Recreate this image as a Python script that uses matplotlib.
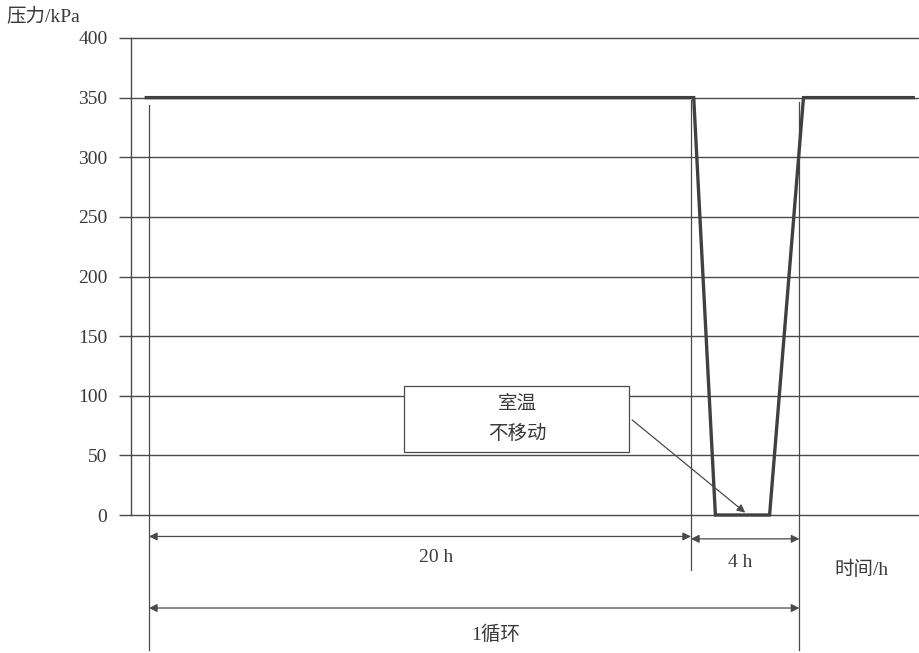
import matplotlib
matplotlib.use("Agg")
import matplotlib.pyplot as plt
from matplotlib.patches import Rectangle

# ---- data ----
time_h = [-0.1, 20.1, 20.9, 22.9, 24.15, 28.2]
pressure_kpa = [350, 350, 0, 0, 350, 350]
yticks = [0, 50, 100, 150, 200, 250, 300, 350, 400]
ytick_labels = ["0", "50", "100", "150", "200", "250", "300", "350", "400"]
phase_bounds = [0, 20, 24]
phase_labels = ["20 h", "4 h"]
cycle_label = "1循环"
ylabel = "压力/kPa"
xlabel = "时间/h"
note_lines = ["室温", "不移动"]

FONT = ["Liberation Serif", "Noto Sans CJK SC", "DejaVu Sans"]
LC = "#4a4a4a"
TC = "#3a3a3a"
FS = 14

W, H = 920, 653
fig = plt.figure(figsize=(W / 100, H / 100), dpi=100)
fig.patch.set_facecolor("white")

# pixel geometry of plotting area
ax_left_px, ax_right_px = 131, 920
y0_px, y400_px = 515, 38
t0_px, px_per_h = 149, 27.1

ax = fig.add_axes([ax_left_px / W, (H - y0_px) / H,
                   (ax_right_px - ax_left_px) / W, (y0_px - y400_px) / H])
ax.set_xlim((ax_left_px - t0_px) / px_per_h, (ax_right_px - t0_px) / px_per_h)
ax.set_ylim(0, 400)
for s in ["top", "right", "bottom"]:
    ax.spines[s].set_visible(False)
ax.spines["left"].set_color(LC)
ax.spines["left"].set_linewidth(1.0)
ax.set_xticks([])
ax.set_yticks(yticks)
ax.set_yticklabels(ytick_labels, family=FONT, fontsize=FS, color=TC)
ax.tick_params(axis="y", direction="out", length=9, width=1.0, color=LC, pad=8)
ax.yaxis.grid(True, color=LC, linewidth=1.0)
for gl in ax.get_ygridlines():
    gl.set_clip_on(False)
ax.set_axisbelow(True)

# y label
ax.text(-0.158, 1.025, ylabel, transform=ax.transAxes, family=FONT,
        fontsize=FS, color=TC, ha="left", va="bottom")

# vertical reference lines
ax.plot([phase_bounds[0]] * 2, [344, -113], color=LC, lw=0.9, clip_on=False)
ax.plot([phase_bounds[1]] * 2, [348, -46], color=LC, lw=0.9, clip_on=False)
ax.plot([phase_bounds[2]] * 2, [346, -113], color=LC, lw=0.9, clip_on=False)

# pressure curve
ax.plot(time_h, pressure_kpa, color="#404040", lw=2.4, clip_on=False,
        solid_joinstyle="miter", zorder=5)

# dimension arrows
arrow_kw = dict(arrowstyle="<|-|>", color=LC, lw=0.9,
                mutation_scale=12, shrinkA=0, shrinkB=0)
ax.annotate("", xy=(phase_bounds[1], -18), xytext=(phase_bounds[0], -18),
            arrowprops=arrow_kw, annotation_clip=False)
ax.annotate("", xy=(phase_bounds[2], -20), xytext=(phase_bounds[1], -20),
            arrowprops=arrow_kw, annotation_clip=False)
ax.annotate("", xy=(phase_bounds[2], -78), xytext=(phase_bounds[0], -78),
            arrowprops=arrow_kw, annotation_clip=False)

ax.text((phase_bounds[0] + phase_bounds[1]) / 2 + 0.6, -36, phase_labels[0],
        family=FONT, fontsize=FS, color=TC, ha="center", va="center")
ax.text((phase_bounds[1] + phase_bounds[2]) / 2 - 0.2, -40, phase_labels[1],
        family=FONT, fontsize=FS, color=TC, ha="center", va="center")
ax.text(26.3, -46, xlabel, family=FONT, fontsize=FS, color=TC,
        ha="center", va="center")
ax.text((phase_bounds[0] + phase_bounds[2]) / 2 + 0.8, -100, cycle_label,
        family=FONT, fontsize=FS, color=TC, ha="center", va="center")

# annotation box
box = Rectangle((9.41, 52.8), 17.72 - 9.41, 108 - 52.8, facecolor="white",
                edgecolor=LC, lw=0.9, zorder=4)
ax.add_patch(box)
ax.text(13.6, 93, note_lines[0], family=FONT, fontsize=FS, color=TC,
        ha="center", va="center", zorder=6)
ax.text(13.6, 68, note_lines[1], family=FONT, fontsize=FS, color=TC,
        ha="center", va="center", zorder=6)
ax.annotate("", xy=(22.0, 2), xytext=(17.83, 79.7),
            arrowprops=dict(arrowstyle="-|>", color=LC, lw=0.9,
                            mutation_scale=12, shrinkA=0, shrinkB=0),
            annotation_clip=False, zorder=6)

fig.savefig("out.png", dpi=100, facecolor="white")
